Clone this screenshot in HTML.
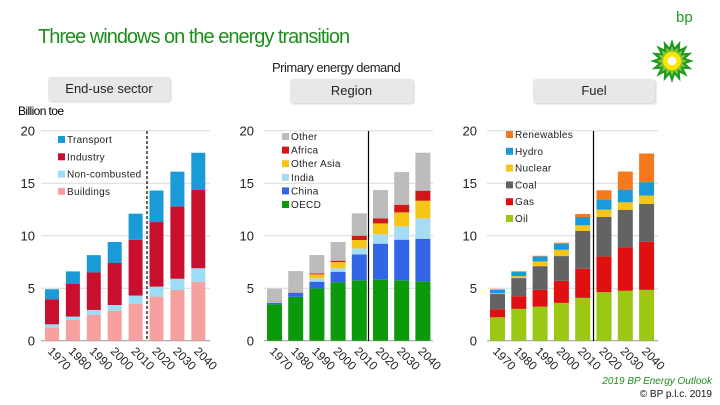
<!DOCTYPE html>
<html><head><meta charset="utf-8">
<style>
body{margin:0;width:720px;height:405px;background:#fff;overflow:hidden;font-family:"Liberation Sans",sans-serif;position:relative}
.box{position:absolute;background:#e8e8e8;border-radius:3px;font-size:13px;color:#222;text-align:center;line-height:24px;height:24px;box-shadow:1px 1px 2px #ccc}
</style></head><body>
<div style="position:absolute;left:38px;top:26px;font-size:20px;color:#1e8c1e;letter-spacing:-1px">Three windows on the energy transition</div>
<div style="position:absolute;left:272px;top:60px;font-size:13px;color:#222;letter-spacing:-0.5px">Primary energy demand</div>
<div class="box" style="left:48px;top:77px;width:122px">End-use sector</div>
<div class="box" style="left:290px;top:79px;width:123px">Region</div>
<div class="box" style="left:533px;top:79px;width:122px">Fuel</div>
<div style="position:absolute;left:18px;top:104px;font-size:12px;letter-spacing:-0.6px">Billion toe</div>
<div style="position:absolute;right:8px;top:376px;font-size:10px;color:#1e8c1e;font-style:italic">2019 BP Energy Outlook</div>
<div style="position:absolute;right:8px;top:389px;font-size:10px;color:#111">© BP p.l.c. 2019</div>
<svg style="position:absolute;left:650px;top:2px" width="50" height="90">
<text x="26" y="20" font-size="15" fill="#1e9a1e" font-family="Liberation Sans">bp</text>
<g transform="translate(22,59)" id="sun"></g></svg>
<svg id="c" width="720" height="405" style="position:absolute;left:0;top:0"></svg>
<script>
const years=["1970","1980","1990","2000","2010","2020","2030","2040"];
const sectorNames=["Buildings","Non-combusted","Industry","Transport"];
const sectorColors=["#f7a0a0","#9ddcf5","#c8102e","#1a9ad6"];
const sectorTotals=[[1.25,1.97,2.45,2.86,3.5,4.2,4.83,5.6],[1.56,2.3,2.93,3.4,4.3,5.15,5.9,6.9],[3.95,5.4,6.5,7.4,9.6,11.3,12.8,14.35],[4.9,6.6,8.15,9.4,12.1,14.3,16.1,17.9]];
const regionNames=["OECD","China","India","Other Asia","Africa","Other"];
const regionColors=["#0a9a0a","#3366e6","#a8dcf5","#f5c518","#d01818","#bcbcbc"];
const regionTotals=[[3.46,4.19,4.98,5.56,5.75,5.81,5.75,5.65],[3.62,4.57,5.62,6.57,8.22,9.24,9.62,9.71],[3.72,4.6,5.94,6.89,8.79,10.13,10.89,11.65],[3.75,4.62,6.32,7.49,9.59,11.17,12.22,13.33],[3.78,4.64,6.41,7.62,10.0,11.65,12.95,14.29],[4.95,6.63,8.16,9.4,12.13,14.35,16.06,17.9]];
const fuelNames=["Oil","Gas","Coal","Nuclear","Hydro","Renewables"];
const fuelColors=["#9bc813","#e01010","#636363","#f5c518","#1a9ad6","#f57a1e"];
const fuelTotals=[[2.23,3.03,3.25,3.6,4.08,4.62,4.75,4.84],[3.0,4.24,4.84,5.7,6.85,8.03,8.89,9.43],[4.46,5.96,7.1,8.06,10.45,11.78,12.45,13.03],[4.52,6.15,7.55,8.66,10.99,12.48,13.18,13.82],[4.84,6.56,8.03,9.24,11.78,13.44,14.39,15.1],[4.9,6.62,8.09,9.33,12.07,14.33,16.11,17.83]];
const yTicks=[0,5,10,15,20];

const svg=document.getElementById('c');
const NS="http://www.w3.org/2000/svg";
function mk(t,a,p){const e=document.createElementNS(NS,t);for(const k in a)e.setAttribute(k,a[k]);(p||svg).appendChild(e);return e;}
// logo sunburst
(function(){const s=document.getElementById('sun');
function star(R,r,n,fill){let p=[];for(let i=0;i<2*n;i++){const a=Math.PI*i/n;const rr=i%2?r:R;p.push((rr*Math.sin(a)).toFixed(1)+','+(-rr*Math.cos(a)).toFixed(1));}mk('polygon',{points:p.join(' '),fill:fill},s);}
star(22,14,16,'#1e9a1e');star(15,10,16,'#8cc83c');mk('circle',{r:9,fill:'#ffe600'},s);mk('circle',{r:4.5,fill:'#fff'},s);})();
const y0=340.7,ppu=10.5;
function yS(v){return y0-v*ppu;}
function drawChart(cfg){
  const g=mk('g',{});
  
  
  yTicks.forEach(t=>{
    const l=mk('line',{x1:cfg.gx0,x2:cfg.gx1,y1:yS(t),y2:yS(t),stroke:t===0?'#999':'#d9d9d9','stroke-width':1},g);
    
    
    const tx=mk('text',{x:cfg.lx,y:yS(t)+5,'font-size':13,'text-anchor':'end',fill:'#222'},g);
    tx.textContent=t;
    
    
  });
  years.forEach((yr,i)=>{
    const x=cfg.bx0+i*cfg.step;
    let prev=0;
    cfg.totals.forEach((ser,s)=>{
      const v=ser[i];
      const r=mk('rect',{x:x,y:yS(v),width:cfg.bw,height:Math.max(0,yS(prev)-yS(v)),fill:cfg.colors[s]},g);
      
      
      prev=v;
    });
    const tl=mk('text',{x:x+2,y:352,'font-size':12,fill:'#222',transform:`rotate(45 ${x+2} 352)`},g);
    tl.textContent=yr;
    
    
  });
  const ln=mk('line',{x1:cfg.div,x2:cfg.div,y1:131,y2:341,stroke:'#000','stroke-width':1.2,'stroke-dasharray':cfg.dash?'3,2':'none'},g);
  
  
  for(let s=cfg.names.length-1,k=0;s>=0;s--,k++){
    const yy=cfg.legY+k*cfg.legStep;
    const sq=mk('rect',{x:cfg.legX,y:yy-6,width:7,height:7,fill:cfg.colors[s]},g);
    
    
    const lt=mk('text',{x:cfg.legX+9,y:yy+1,'font-size':10,fill:'#222','letter-spacing':'0.3'},g);
    lt.textContent=cfg.names[s];
    
    
  }
}
drawChart({name:'sector-chart',totals:sectorTotals,colors:sectorColors,names:sectorNames,gx0:41,gx1:210,lx:35,bx0:45,step:20.9,bw:14,div:147,dash:true,legX:58,legY:142,legStep:17.3});
drawChart({name:'region-chart',totals:regionTotals,colors:regionColors,names:regionNames,gx0:264,gx1:433,lx:254,bx0:267,step:21.2,bw:15,div:368.5,dash:false,legX:282,legY:139,legStep:13.6});
drawChart({name:'fuel-chart',totals:fuelTotals,colors:fuelColors,names:fuelNames,gx0:487,gx1:658,lx:477,bx0:490,step:21.3,bw:15,div:593.5,dash:false,legX:506,legY:137,legStep:16.8});
</script>
</body></html>
